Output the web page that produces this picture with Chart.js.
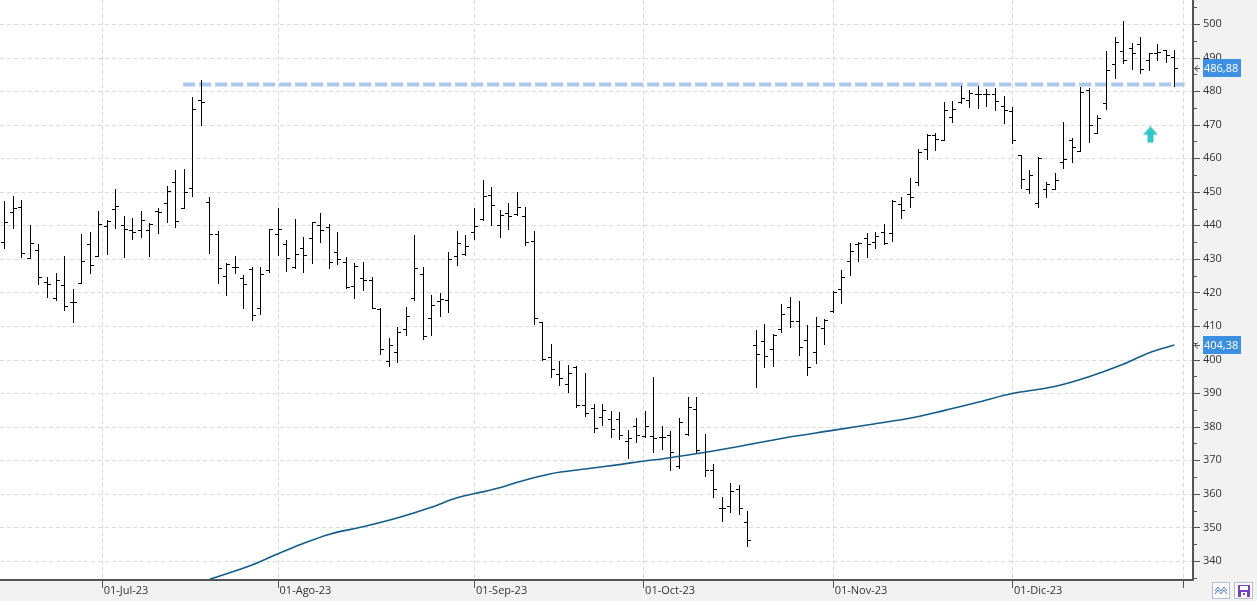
<!DOCTYPE html>
<html>
<head>
<meta charset="utf-8">
<script src="https://cdn.jsdelivr.net/npm/chart.js@4.4.0/dist/chart.umd.min.js"></script>
<style>
  html, body { margin: 0; padding: 0; background: #f2f2f2; }
  canvas { display: block; }
</style>
</head>
<body>
<canvas id="chart" width="1257" height="601"></canvas>
<script>
// daily bars, one per trading day (index 0 = first bar on the left)
var barOpen = [435.0, 443.9, 445.4, 430.2, 432.7, 423.0, 418.4, 422.3, 417.3, 422.8,
  434.4, 431.0, 439.7, 444.8, 440.0, 438.5, 438.5, 438.5, 444.4, 446.6,
  452.8, 445.3, 451.0, 477.3, 447.1, 437.3, 424.8, 427.5, 424.2, 426.9,
  415.3, 426.6, 437.3, 434.5, 427.5, 433.2, 436.1, 440.1, 439.4, 432.0,
  429.0, 421.8, 424.3, 423.7, 415.2, 399.5, 402.3, 409.0, 418.4, 425.4,
  412.4, 417.4, 417.7, 430.8, 431.6, 438.0, 441.8, 449.1, 440.0, 443.6,
  443.4, 442.7, 435.3, 411.2, 400.9, 395.7, 392.6, 397.9, 386.4, 385.5,
  382.9, 382.3, 382.3, 375.7, 380.1, 377.1, 377.1, 376.9, 377.4, 368.2,
  377.9, 385.3, 372.6, 367.1, 355.7, 356.3, 361.3, 351.6, 404.2, 405.5,
  403.2, 409.2, 415.6, 411.4, 405.8, 402.2, 409.3, 414.6, 420.9, 429.3,
  434.4, 436.2, 434.9, 437.9, 437.7, 446.5, 449.2, 452.8, 462.9, 467.0,
  465.3, 472.2, 476.9, 477.4, 479.1, 479.1, 479.0, 475.5, 474.2, 461.0,
  450.9, 446.6, 450.7, 450.8, 459.0, 465.3, 462.1, 480.3, 467.6, 476.4,
  488.1, 491.9, 492.7, 494.0, 489.3, 491.4, 492.2, 490.3];
var barHigh = [447.3, 448.8, 447.6, 440.1, 434.4, 424.5, 425.7, 430.9, 421.0, 437.5,
  437.9, 444.3, 441.5, 450.8, 442.8, 442.2, 444.3, 440.6, 445.3, 451.8,
  456.5, 456.8, 478.3, 483.3, 448.5, 438.3, 428.7, 430.9, 425.1, 427.5,
  427.6, 438.8, 445.2, 435.6, 441.9, 436.5, 441.0, 443.7, 440.4, 438.0,
  430.5, 428.9, 429.1, 424.6, 415.4, 406.4, 409.8, 415.7, 437.1, 427.6,
  419.2, 419.8, 432.1, 438.2, 437.1, 445.2, 453.5, 451.4, 444.5, 446.6,
  449.8, 445.5, 438.3, 411.3, 404.7, 399.6, 398.4, 398.1, 396.0, 386.8,
  386.7, 384.7, 384.4, 379.0, 382.6, 384.7, 394.8, 380.2, 378.7, 382.6,
  388.9, 388.9, 377.8, 368.8, 359.1, 363.2, 362.6, 355.0, 408.8, 410.5,
  407.5, 416.6, 418.7, 417.5, 410.3, 412.7, 412.2, 420.5, 426.7, 434.7,
  434.9, 437.7, 438.0, 440.4, 447.6, 448.4, 454.0, 462.7, 467.1, 467.6,
  476.8, 477.1, 481.5, 480.3, 481.5, 480.6, 480.8, 478.5, 475.4, 461.0,
  456.4, 460.4, 452.8, 455.5, 470.8, 465.9, 481.1, 480.8, 472.9, 492.0,
  496.0, 500.9, 494.2, 496.0, 491.5, 493.9, 492.4, 492.3];
var barLow = [433.3, 439.3, 430.7, 430.2, 422.4, 418.6, 417.8, 414.9, 411.3, 422.8,
  425.9, 431.0, 431.6, 439.3, 430.7, 435.8, 436.6, 431.0, 437.6, 441.1,
  439.6, 445.1, 448.6, 469.9, 431.9, 422.9, 419.1, 425.9, 415.5, 411.7,
  413.7, 426.2, 431.3, 426.5, 427.2, 426.2, 428.7, 434.9, 427.4, 428.6,
  421.2, 418.4, 420.7, 415.3, 401.7, 398.2, 399.4, 407.2, 417.7, 406.0,
  407.4, 413.1, 414.3, 428.3, 431.3, 435.8, 441.5, 440.2, 436.6, 438.8,
  443.2, 434.0, 410.5, 399.9, 394.9, 392.5, 390.2, 386.0, 383.3, 378.3,
  380.6, 377.0, 376.2, 370.8, 375.3, 376.8, 372.6, 373.5, 367.2, 367.6,
  377.6, 372.3, 365.2, 359.0, 352.0, 354.7, 353.9, 344.6, 391.9, 397.9,
  398.2, 408.3, 409.8, 401.4, 395.4, 399.1, 404.5, 414.1, 417.0, 425.3,
  429.5, 430.7, 433.4, 434.3, 435.3, 442.3, 445.6, 452.1, 459.7, 462.6,
  465.3, 470.9, 476.4, 475.2, 475.1, 475.7, 474.4, 470.4, 464.4, 451.0,
  449.6, 445.6, 448.4, 450.7, 457.0, 459.0, 462.1, 464.7, 467.4, 474.8,
  484.0, 488.3, 486.7, 485.3, 486.2, 489.3, 488.8, 481.6];
var barClose = [440.9, 445.1, 431.7, 434.8, 424.5, 422.5, 423.7, 416.0, 417.1, 429.3,
  428.1, 440.3, 441.4, 445.7, 439.0, 438.1, 441.5, 440.4, 444.0, 450.2,
  441.4, 449.9, 474.6, 476.9, 437.3, 427.2, 428.5, 427.5, 422.4, 413.2,
  425.4, 438.8, 438.8, 430.2, 431.4, 431.1, 441.0, 438.5, 429.0, 429.9,
  421.5, 427.8, 423.7, 415.3, 403.1, 404.4, 408.1, 413.0, 427.2, 407.0,
  416.3, 418.1, 429.9, 434.8, 433.8, 439.7, 448.8, 446.1, 443.2, 442.7,
  445.4, 435.0, 412.3, 400.1, 397.1, 394.4, 396.1, 386.4, 384.0, 379.6,
  385.0, 379.3, 377.5, 376.7, 377.5, 380.2, 376.6, 376.9, 372.6, 381.5,
  385.8, 373.1, 367.1, 361.4, 355.7, 360.8, 355.7, 346.3, 401.6, 401.1,
  407.3, 413.5, 411.4, 403.7, 397.7, 409.9, 411.8, 420.2, 424.5, 432.3,
  434.7, 434.4, 436.7, 434.8, 447.3, 444.6, 448.4, 461.9, 466.9, 465.6,
  474.3, 474.8, 477.8, 479.5, 479.1, 479.1, 477.2, 474.4, 465.4, 453.7,
  455.0, 460.2, 452.3, 453.4, 459.7, 463.2, 479.6, 469.9, 471.9, 486.2,
  494.7, 489.2, 491.5, 486.5, 491.3, 491.8, 490.8, 486.88];

// moving average, read at a few bar positions
var maIndex = [24, 29, 32, 35, 38, 42, 46, 50, 53, 55, 58, 60, 64, 68, 72, 75, 77,
  86, 91, 97, 102, 106, 110, 114, 118, 123, 127, 131, 134, 137];
var maValue = [334.5, 338.8, 342.1, 345.2, 347.9, 350.2, 352.8, 356.0, 358.8, 360.0,
  361.8, 363.4, 366.0, 367.4, 368.7, 369.8, 370.4, 374.1, 376.5, 378.9, 380.9,
  382.5, 384.8, 387.3, 389.9, 392.0, 394.9, 398.6, 402.0, 404.38];

// resistance line and signal arrow
var resistLevel = 482.0;
var resistFrom = 20.95;
var resistTo = 138.2;
var signalBar = 134.2;
var signalLevel = 467.0;

// axes
var monthPos = [11.4, 32, 55, 74.8, 97, 118, 138];
var monthLabels = ['01-Jul-23', '01-Ago-23', '01-Sep-23', '01-Oct-23', '01-Nov-23', '01-Dic-23', '01-Ene-24'];
var yTickValues = [340, 350, 360, 370, 380, 390, 400, 410, 420, 430, 440, 450, 460, 470, 480, 490, 500];

var FONT = '"Open Sans", "Noto Sans", sans-serif';

function fmt(v) {
  return v.toFixed(2).replace('.', ',');
}

// little up arrow used as point style
var arrowImg = document.createElement('canvas');
arrowImg.width = 16;
arrowImg.height = 17;
(function() {
  var g = arrowImg.getContext('2d');
  g.fillStyle = '#34c7c9';
  g.beginPath();
  g.moveTo(8, 0);
  g.lineTo(15.5, 8.5);
  g.lineTo(11, 8.5);
  g.lineTo(11, 16.5);
  g.lineTo(5, 16.5);
  g.lineTo(5, 8.5);
  g.lineTo(0.5, 8.5);
  g.closePath();
  g.fill();
})();

function hline(ctx, x1, x2, y) {
  ctx.beginPath();
  ctx.moveTo(x1, y);
  ctx.lineTo(x2, y);
  ctx.stroke();
}
function vline(ctx, x, y1, y2) {
  ctx.beginPath();
  ctx.moveTo(x, y1);
  ctx.lineTo(x, y2);
  ctx.stroke();
}

function drawTag(ctx, left, y, text) {
  var yy = Math.round(y);
  ctx.fillStyle = '#3d8fe2';
  ctx.fillRect(left + 11, yy - 9, 38, 18);
  ctx.fillStyle = '#ffffff';
  ctx.font = '11px ' + FONT;
  ctx.textAlign = 'left';
  ctx.textBaseline = 'middle';
  ctx.fillText(text, left + 12, yy + 0.5);
  ctx.strokeStyle = '#555555';
  ctx.lineWidth = 1;
  ctx.beginPath();
  ctx.moveTo(left + 6, yy - 2.5);
  ctx.lineTo(left + 2.5, yy + 0.5);
  ctx.lineTo(left + 6, yy + 3.5);
  ctx.moveTo(left + 2.5, yy + 0.5);
  ctx.lineTo(left + 8, yy + 0.5);
  ctx.stroke();
}

var chartDecor = {
  id: 'chartDecor',
  beforeDraw: function(chart) {
    var ctx = chart.ctx, a = chart.chartArea;
    ctx.save();
    ctx.fillStyle = '#f2f2f2';
    ctx.fillRect(0, 0, chart.width, chart.height);
    ctx.fillStyle = '#ffffff';
    ctx.fillRect(a.left, a.top, a.right - a.left, a.bottom - a.top);
    ctx.restore();
  },
  beforeDatasetsDraw: function(chart) {
    var ctx = chart.ctx, a = chart.chartArea;
    var xs = chart.scales.x, ys = chart.scales.y;
    ctx.save();
    ctx.strokeStyle = '#dadada';
    ctx.lineWidth = 1;
    ctx.setLineDash([4, 3]);
    yTickValues.forEach(function(v) {
      var y = Math.round(ys.getPixelForValue(v)) + 0.5;
      hline(ctx, a.left, a.right, y);
    });
    monthPos.forEach(function(p) {
      var x = Math.round(xs.getPixelForValue(p)) + 0.5;
      vline(ctx, x, a.top, a.bottom);
    });
    ctx.restore();
  },
  afterDatasetDraw: function(chart, args) {
    // OHLC bars go right above the dashed resistance line
    if (args.index !== 0) return;
    var ctx = chart.ctx, a = chart.chartArea;
    var xs = chart.scales.x, ys = chart.scales.y;
    ctx.save();
    ctx.beginPath();
    ctx.rect(a.left, a.top, a.right - a.left, a.bottom - a.top);
    ctx.clip();
    ctx.fillStyle = '#000000';
    for (var i = 0; i < barClose.length; i++) {
      var x = Math.round(xs.getPixelForValue(i));
      var yh = Math.round(ys.getPixelForValue(barHigh[i]));
      var yl = Math.round(ys.getPixelForValue(barLow[i]));
      var yo = Math.round(ys.getPixelForValue(barOpen[i]));
      var yc = Math.round(ys.getPixelForValue(barClose[i]));
      ctx.fillRect(x, yh, 1, Math.max(1, yl - yh + 1));
      ctx.fillRect(x - 3, yo, 3, 1);
      ctx.fillRect(x + 1, yc, 3, 1);
    }
    ctx.restore();
  },
  afterDraw: function(chart) {
    var ctx = chart.ctx, a = chart.chartArea;
    var xs = chart.scales.x, ys = chart.scales.y;
    ctx.save();
    // axis lines
    ctx.fillStyle = '#555555';
    ctx.fillRect(a.right, 0, 2, a.bottom + 2);
    ctx.fillRect(0, a.bottom, a.right, 2);
    // month marks
    monthPos.forEach(function(p) {
      var x = Math.round(xs.getPixelForValue(p));
      ctx.fillRect(x, a.bottom, 1, 9);
    });
    // price marks, long on tens, short on fives
    yTickValues.forEach(function(v) {
      var y = Math.round(ys.getPixelForValue(v));
      ctx.fillRect(a.right, y, 8, 1);
      var y5 = Math.round(ys.getPixelForValue(v + 5));
      if (y5 > a.top) ctx.fillRect(a.right, y5, 5, 1);
      var y5b = Math.round(ys.getPixelForValue(v - 5));
      if (v === yTickValues[0] && y5b < a.bottom) ctx.fillRect(a.right, y5b, 5, 1);
    });
    // last values
    drawTag(ctx, a.right, ys.getPixelForValue(barClose[barClose.length - 1]), fmt(barClose[barClose.length - 1]));
    drawTag(ctx, a.right, ys.getPixelForValue(maValue[maValue.length - 1]), fmt(maValue[maValue.length - 1]));

    // toolbar buttons, bottom right
    ctx.fillStyle = '#ffffff';
    ctx.fillRect(1212, 582, 18, 17);
    ctx.fillRect(1234, 582, 19, 17);
    ctx.strokeStyle = '#b4bfd2';
    ctx.lineWidth = 1;
    ctx.strokeRect(1212.5, 582.5, 17, 16);
    ctx.strokeRect(1234.5, 582.5, 18, 16);
    ctx.strokeStyle = '#4a78cf';
    ctx.beginPath();
    ctx.moveTo(1215, 591); ctx.lineTo(1218, 587); ctx.lineTo(1221, 591); ctx.lineTo(1224, 587); ctx.lineTo(1227, 591);
    ctx.moveTo(1215, 594); ctx.lineTo(1218, 590); ctx.lineTo(1221, 594); ctx.lineTo(1224, 590); ctx.lineTo(1227, 594);
    ctx.stroke();
    ctx.fillStyle = '#7b3fc2';
    ctx.fillRect(1238, 585, 12, 12);
    ctx.fillStyle = '#ffffff';
    ctx.fillRect(1240, 586, 8, 4);
    ctx.fillRect(1241, 592, 6, 5);
    ctx.fillStyle = '#7b3fc2';
    ctx.fillRect(1243, 593, 2, 2);
    ctx.restore();
  }
};

var resistData = [{ x: resistFrom, y: resistLevel }, { x: resistTo, y: resistLevel }];
var maData = maIndex.map(function(ix, k) { return { x: ix, y: maValue[k] }; });

new Chart(document.getElementById('chart'), {
  type: 'line',
  data: {
    datasets: [
      {
        label: 'Resistencia',
        data: resistData,
        borderColor: '#a9c9ee',
        borderWidth: 4,
        borderDash: [12, 4],
        pointRadius: 0,
        order: 3
      },
      {
        label: 'Media',
        data: maData,
        borderColor: '#135d8c',
        borderWidth: 1.6,
        pointRadius: 0,
        cubicInterpolationMode: 'monotone',
        order: 2
      },
      {
        label: 'Señal',
        type: 'scatter',
        data: [{ x: signalBar, y: signalLevel }],
        pointStyle: arrowImg,
        pointRadius: 8,
        order: 1
      }
    ]
  },
  options: {
    responsive: false,
    animation: false,
    devicePixelRatio: 1,
    events: [],
    layout: { padding: 0, autoPadding: false },
    plugins: {
      legend: { display: false },
      tooltip: { enabled: false }
    },
    scales: {
      x: {
        type: 'linear',
        position: 'bottom',
        min: -0.5,
        max: 139.07,
        afterBuildTicks: function(s) {
          s.ticks = monthPos.map(function(v) { return { value: v }; });
        },
        afterFit: function(s) {
          s.height = 22;
          s.paddingLeft = 0;
          s.paddingRight = 0;
        },
        grid: { display: false, drawTicks: false },
        border: { display: false },
        ticks: {
          autoSkip: false,
          maxRotation: 0,
          minRotation: 0,
          align: 'start',
          padding: 5,
          labelOffset: 2,
          color: '#333333',
          font: { family: FONT, size: 11 },
          callback: function(v, i) {
            // the last month label is cut off by the price axis
            return i < monthLabels.length - 1 ? monthLabels[i] : '';
          }
        }
      },
      y: {
        position: 'right',
        min: 334.62,
        max: 507.15,
        afterBuildTicks: function(s) {
          s.ticks = yTickValues.map(function(v) { return { value: v }; });
        },
        afterFit: function(s) {
          s.width = 65;
          s.paddingTop = 0;
          s.paddingBottom = 0;
        },
        grid: { display: false, drawTicks: false },
        border: { display: false },
        ticks: {
          padding: 11,
          color: '#333333',
          font: { family: FONT, size: 11 },
          callback: function(v) { return String(v); }
        }
      }
    }
  },
  plugins: [chartDecor]
});
</script>
</body>
</html>
